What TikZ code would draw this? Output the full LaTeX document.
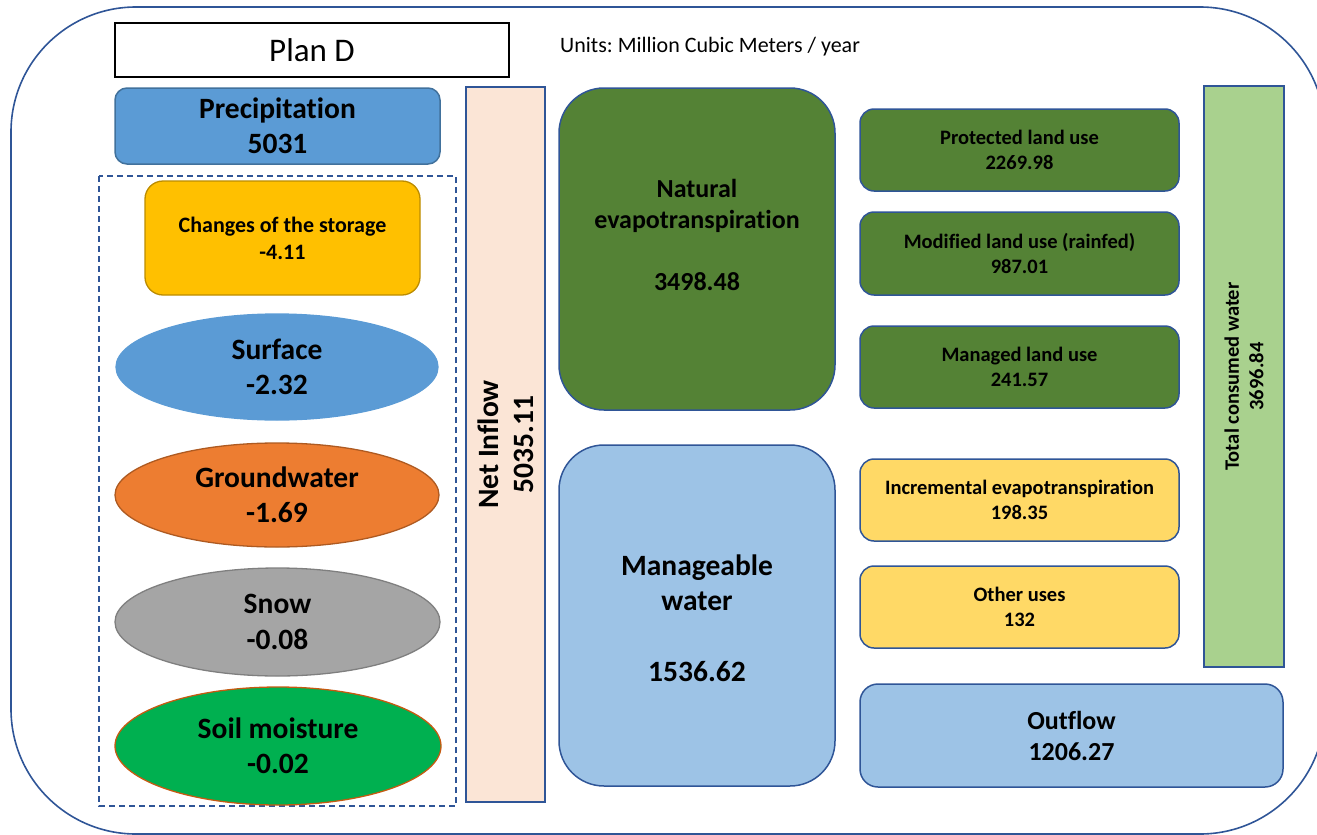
\documentclass[tikz,border=0pt]{standalone}
\usepackage{fontspec}
\setmainfont{Carlito}[Ligatures={NoCommon,NoContextual}]
\frenchspacing
\usetikzlibrary{shapes.geometric}
\definecolor{frameblue}{HTML}{2F5597}
\definecolor{edgeblue}{HTML}{41719C}
\definecolor{fillblue}{HTML}{5B9BD5}
\definecolor{lightblue}{HTML}{9DC3E6}
\definecolor{darkgreen}{HTML}{548235}
\definecolor{paleyellow}{HTML}{FFD966}
\definecolor{gold}{HTML}{FFC000}
\definecolor{goldedge}{HTML}{BC8C00}
\definecolor{peach}{HTML}{FBE5D6}
\definecolor{lightgreen}{HTML}{A9D18E}
\definecolor{orange}{HTML}{ED7D31}
\definecolor{orangeedge}{HTML}{AE5A21}
\definecolor{grayfill}{HTML}{A5A5A5}
\definecolor{grayedge}{HTML}{7F7F7F}
\definecolor{brightgreen}{HTML}{00B050}
\definecolor{brownedge}{HTML}{C55A11}
\tikzset{
  box/.style={draw=frameblue, line width=1.5pt, inner sep=0pt, align=center, font=\bfseries},
  bigtxt/.style={font=\fontsize{29.5}{35.4}\selectfont\bfseries},
  midtxt/.style={font=\fontsize{26}{31}\selectfont\bfseries},
  smalltxt/.style={font=\fontsize{20.5}{24.6}\selectfont\bfseries},
  oval/.style={ellipse, line width=1.3pt, inner sep=0pt, align=center, bigtxt},
}
\begin{document}
\begin{tikzpicture}[x=1pt,y=-1pt]
\useasboundingbox (0,0) rectangle (1317,835);
\clip (0,0) rectangle (1317,835);
% outer frame
\draw[frameblue, line width=1.6pt, rounded corners=125pt] (11,7) rectangle (1325,834);
% title
\node[draw=black, line width=1.2pt, minimum width=394pt, minimum height=54pt, inner sep=0pt,
  font=\fontsize{33}{40}\selectfont] (title) at (312,50) {Plan D};
\node[anchor=west, inner sep=0pt, font=\fontsize{22}{26}\selectfont] (units) at (560,47) {Units: Million Cubic Meters / year};
% precipitation
\node[box, draw=edgeblue, fill=fillblue, rounded corners=12pt, minimum width=325pt, minimum height=76pt, bigtxt]
  (precip) at (277.5,126) {Precipitation\\5031};
% dashed group
\draw[frameblue, line width=1.3pt, dash pattern=on 6pt off 4pt] (99,176) rectangle (456,806);
\node[box, draw=goldedge, line width=1.3pt, fill=gold, rounded corners=18pt, minimum width=275pt, minimum height=114pt,
  font=\fontsize{22}{27}\selectfont\bfseries] (storage) at (282.5,238) {Changes of the storage\\-4.11};
\node[oval, draw=fillblue, fill=fillblue, minimum width=322pt, minimum height=106pt] (surface) at (277,367) {Surface\\-2.32};
\node[oval, draw=orangeedge, fill=orange, minimum width=324pt, minimum height=104pt] (ground) at (277,495) {Groundwater\\-1.69};
\node[oval, draw=grayedge, fill=grayfill, minimum width=325pt, minimum height=108pt] (snow) at (277.5,622) {Snow\\-0.08};
\node[oval, draw=brownedge, fill=brightgreen, minimum width=326pt, minimum height=118pt] (soil) at (278,746) {Soil moisture\\-0.02};
% net inflow
\node[box, fill=peach, rotate=90, minimum width=715pt, minimum height=79pt, bigtxt] (net) at (505.5,444.5) {Net Inflow\\5035.11};
% natural ET
\node[box, fill=darkgreen, rounded corners=45pt, minimum width=276pt, minimum height=322pt] (natural) at (697,249) {};
\node[align=center, inner sep=0pt, midtxt] (naturaltxt) at (697,234.5) {Natural\\evapotranspiration\\[31pt]3498.48};
% manageable
\node[box, fill=lightblue, rounded corners=45pt, minimum width=276pt, minimum height=341pt] (manage) at (697,615.5) {};
\node[align=center, inner sep=0pt, bigtxt] (managetxt) at (697,618) {Manageable\\water\\[35.4pt]1536.62};
% right column
\node[box, fill=darkgreen, rounded corners=14pt, minimum width=319pt, minimum height=82pt, smalltxt] (protected) at (1019.5,150) {Protected land use\\2269.98};
\node[box, fill=darkgreen, rounded corners=14pt, minimum width=319pt, minimum height=83pt, smalltxt] (modified) at (1019.5,253.5) {Modified land use (rainfed)\\987.01};
\node[box, fill=darkgreen, rounded corners=14pt, minimum width=319pt, minimum height=82pt, smalltxt] (managed) at (1019.5,367) {Managed land use\\241.57};
\node[box, fill=paleyellow, rounded corners=14pt, minimum width=319pt, minimum height=82pt, smalltxt] (incremental) at (1019.5,500) {Incremental evapotranspiration\\198.35};
\node[box, fill=paleyellow, rounded corners=14pt, minimum width=319pt, minimum height=82pt, smalltxt] (other) at (1019.5,607) {Other uses\\132};
\node[box, fill=lightblue, rounded corners=18pt, minimum width=423pt, minimum height=103pt, midtxt] (outflow) at (1071.5,735.5) {Outflow\\1206.27};
\node[box, fill=lightgreen, rotate=90, minimum width=581pt, minimum height=80pt, smalltxt] (total) at (1244,376.5) {Total consumed water\\3696.84};
\end{tikzpicture}
\end{document}
